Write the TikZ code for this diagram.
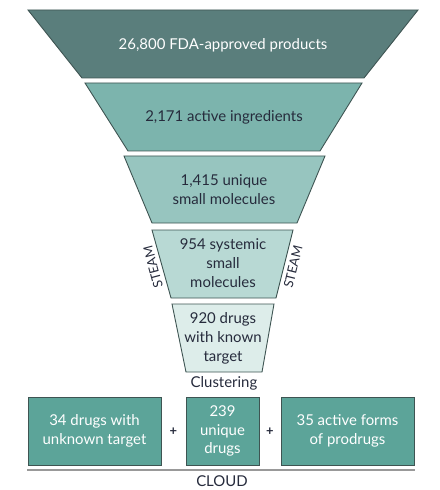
\documentclass[tikz,border=0pt]{standalone}
\usepackage{fontspec}
\setmainfont{Lato}
\usepackage{tikz}
\usetikzlibrary{positioning}
\definecolor{funnelDark}{HTML}{5A7E7C}
\definecolor{funnelMid}{HTML}{7CB4AD}
\definecolor{funnelSoft}{HTML}{97C5BF}
\definecolor{funnelPale}{HTML}{B8D9D4}
\definecolor{funnelMist}{HTML}{DDEDEA}
\definecolor{cloudTeal}{HTML}{5CA499}
\definecolor{edgeGrey}{HTML}{3E5452}
\definecolor{inkNavy}{HTML}{262B3C}

\begin{document}
\begin{tikzpicture}[
  x=1bp, y=-1bp,
  every node/.style={font=\fontsize{15}{19}\selectfont, text=inkNavy, align=center},
  tier/.style={draw=edgeGrey, line width=0.9pt, line join=miter},
  cloudbox/.style={draw=edgeGrey, line width=0.9pt, fill=cloudTeal},
  whitetext/.style={text=white},
  steam/.style={font=\fontsize{13}{13}\selectfont, text=inkNavy, inner sep=0pt},
  plus/.style={font=\fontsize{13}{13}\selectfont\bfseries},
]
\useasboundingbox (0,0) rectangle (440,490);

% Funnel tiers
\draw[tier, fill=funnelDark] (28,10) -- (418,10) -- (364,78) -- (82,78) -- cycle;
\node[whitetext] (products) at (223,45) {26,800 FDA-approved products};

\draw[tier, fill=funnelMid] (85,83) -- (362,83) -- (320,151) -- (128,151) -- cycle;
\node (ingredients) at (224,117) {2,171 active ingredients};

\draw[tier, fill=funnelSoft] (124,156) -- (325,156) -- (297,223) -- (152,223) -- cycle;
\node (unique) at (224,190) {1,415 unique\\small molecules};

\draw[tier, fill=funnelPale] (152,230) -- (293,230) -- (276,298) -- (171,298) -- cycle;
\node (systemic) at (223,263) {954 systemic\\small\\molecules};

\draw[tier, fill=funnelMist] (172,304) -- (274,304) -- (262,372) -- (186,372) -- cycle;
\node (known) at (223,338) {920 drugs\\with known\\target};

% STEAM filter on both sides
\node[steam, rotate=105] (steamL) at (153,267) {STEAM};
\node[steam, rotate=76] (steamR) at (293,267) {STEAM};

\node (clustering) at (224,383) {Clustering};

% Final split
\draw[cloudbox] (28,397) rectangle (161,465);
\node[whitetext] (unknown) at (94.5,431) {34 drugs with\\unknown target};
\draw[cloudbox] (186,397) rectangle (259,465);
\node[whitetext] (drugs) at (222.5,431) {239\\unique\\drugs};
\draw[cloudbox] (281,397) rectangle (414,465);
\node[whitetext] (prodrugs) at (347.5,431) {35 active forms\\of prodrugs};

\node[plus] (plusA) at (173.5,432) {+};
\node[plus] (plusB) at (270,432) {+};

\draw[gray!80, line width=1.1pt] (27,470) -- (415,470);
\node (cloud) at (222,481) {CLOUD};

\end{tikzpicture}
\end{document}
